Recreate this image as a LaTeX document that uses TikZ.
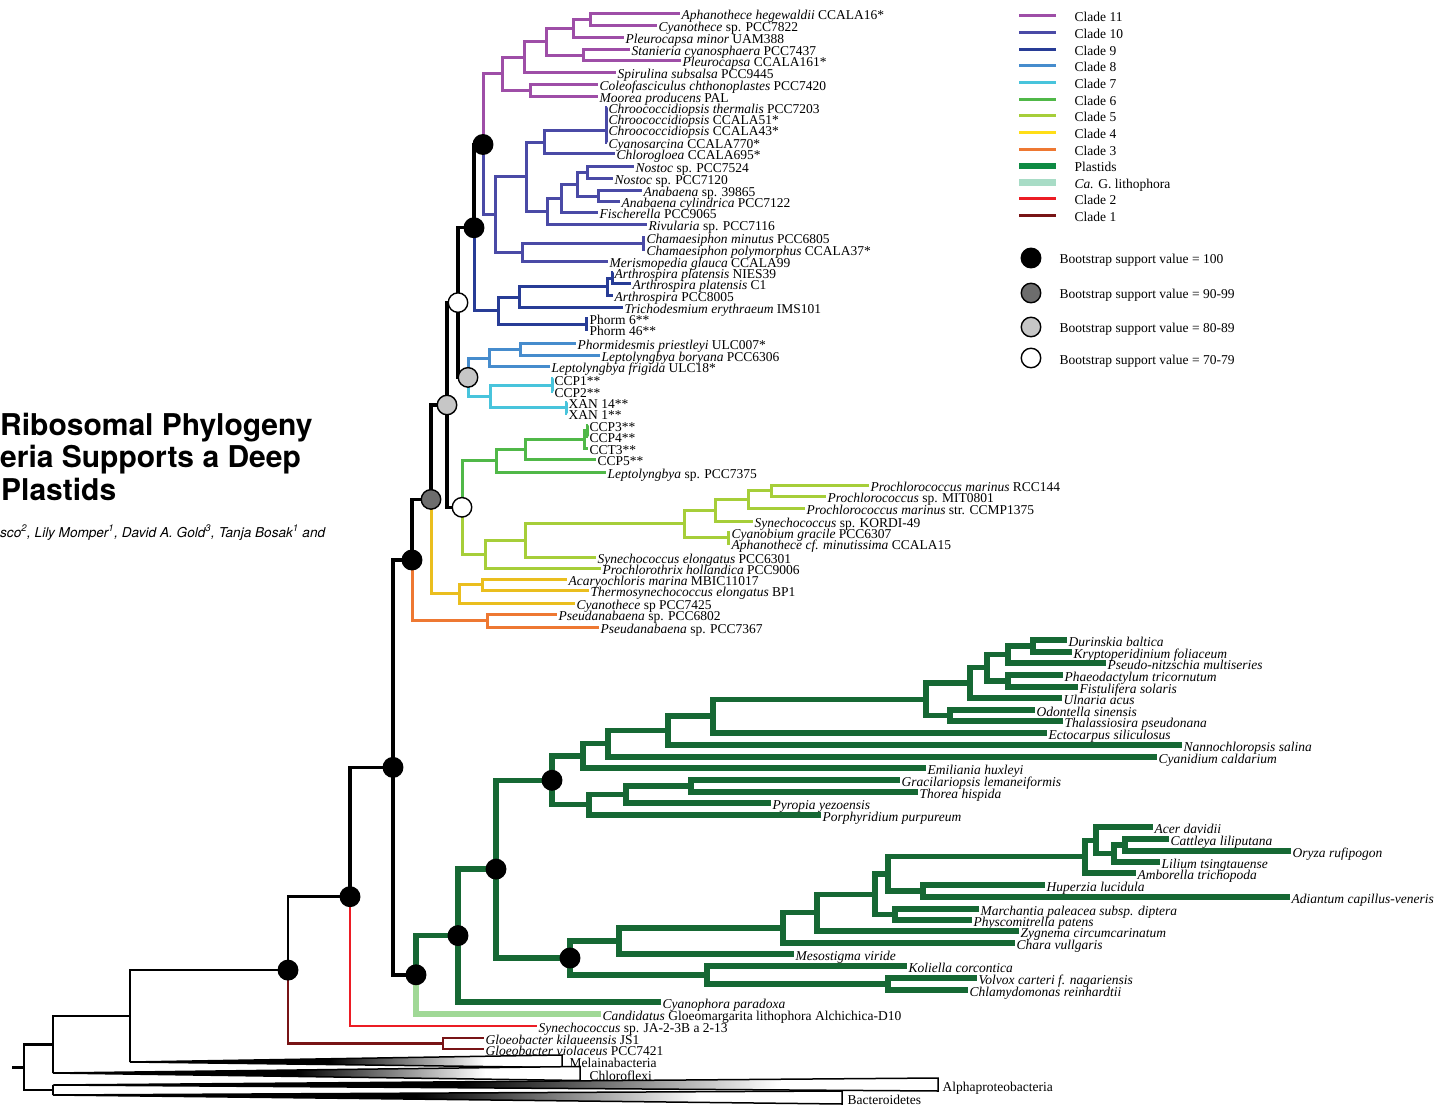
\documentclass[tikz,border=0pt]{standalone}
\usepackage{fontspec}
\setmainfont{Liberation Serif}
\newfontfamily\headfont{TeX Gyre Heros}

\definecolor{colXI}{HTML}{9E4EA7}
\definecolor{colX}{HTML}{4A4AA6}
\definecolor{colIX}{HTML}{283C96}
\definecolor{colVIII}{HTML}{468CCD}
\definecolor{colVII}{HTML}{48C4DC}
\definecolor{colVI}{HTML}{50B848}
\definecolor{colV}{HTML}{A6CE39}
\definecolor{colIV}{HTML}{EABE1E}
\definecolor{colIII}{HTML}{EE7832}
\definecolor{colPl}{HTML}{166834}
\definecolor{colGl}{HTML}{A0D896}
\definecolor{colII}{HTML}{EC1C24}
\definecolor{colI}{HTML}{781416}
\definecolor{keyIV}{HTML}{FFDE17}
\definecolor{keyPl}{HTML}{0E8A43}
\definecolor{keyGl}{HTML}{A8DCC6}
\definecolor{bsdark}{HTML}{6D6D6D}
\definecolor{bslight}{HTML}{C6C6C6}

\pgfdeclarehorizontalshading{wedgefade}{100bp}{color(0bp)=(black); color(25bp)=(black); color(48bp)=(black); color(66bp)=(white); color(100bp)=(white)}

\tikzset{
  cyano/.style={line width=3pt},
  c11/.style={cyano,draw=colXI},
  c10/.style={cyano,draw=colX},
  c9/.style={cyano,draw=colIX},
  c8/.style={cyano,draw=colVIII},
  c7/.style={cyano,draw=colVII},
  c6/.style={cyano,draw=colVI},
  c5/.style={cyano,draw=colV},
  c4/.style={cyano,draw=colIV},
  c3/.style={cyano,draw=colIII},
  c2/.style={line width=2.5pt,draw=colII},
  c1/.style={line width=2.8pt,draw=colI},
  spine/.style={line width=3.4pt,draw=black},
  outer/.style={line width=2.5pt,draw=black},
  plastid/.style={line width=5.4pt,draw=colPl},
  lithophora/.style={line width=6pt,draw=colGl},
  leaf/.style={anchor=west,inner sep=1.5pt,text height=12pt,text depth=0pt,font=\fontsize{13.5}{14}\selectfont},
  boot/.style={circle,draw=black,line width=1.4pt,minimum size=19.5pt,inner sep=0pt},
  bs100/.style={boot,fill=black},
  bs90/.style={boot,fill=bsdark},
  bs80/.style={boot,fill=bslight},
  bs70/.style={boot,fill=white},
  heading/.style={anchor=base west,inner sep=0pt,font=\headfont\bfseries\fontsize{30}{32}\selectfont},
  collapsed/.style={draw=black,line width=1.5pt,shading=wedgefade}
}

\begin{document}
\begin{tikzpicture}[x=1pt,y=-1pt]
  \useasboundingbox (0,0) rectangle (1449,1107);

  \node[heading] (ttla) at (0,435) {Ribosomal Phylogeny};
  \node[heading] (ttlb) at (0,467) {eria Supports a Deep};
  \node[heading] (ttlc) at (1,500) {Plastids};
  \node[anchor=base west,inner sep=0pt,font=\headfont\itshape\fontsize{13.6}{15}\selectfont] (auth) at (0,537) {sco\textsuperscript{2}, Lily Momper\textsuperscript{1}, David A. Gold\textsuperscript{3}, Tanja Bosak\textsuperscript{1} and};

  % clade 11
  \node[leaf] (aph) at (680,14) {\textit{Aphanothece hegewaldii} CCALA16*};
  \node[leaf] (cyn22) at (657,26) {\textit{Cyanothece} sp. PCC7822};
  \node[leaf] (pmin) at (624,38) {\textit{Pleurocapsa minor} UAM388};
  \node[leaf] (stan) at (630,50) {\textit{Stanieria cyanosphaera} PCC7437};
  \node[leaf] (pc161) at (681,61) {\textit{Pleurocapsa} CCALA161*};
  \node[leaf] (spir) at (616,73) {\textit{Spirulina subsalsa} PCC9445};
  \node[leaf] (cole) at (598,85) {\textit{Coleofasciculus chthonoplastes} PCC7420};
  \node[leaf] (moor) at (598,97) {\textit{Moorea producens} PAL};
  \coordinate (p1) at (590,20);
  \coordinate (p2) at (573,29);
  \coordinate (p3) at (583,55.5);
  \coordinate (p4) at (546,42);
  \coordinate (p5) at (524,57.5);
  \coordinate (p6) at (530,91);
  \coordinate (p7) at (502,74);
  \draw[c11] (p1) |- (aph.west) (p1) |- (cyn22.west);
  \draw[c11] (p2) |- (p1) (p2) |- (pmin.west);
  \draw[c11] (p3) |- (stan.west) (p3) |- (pc161.west);
  \draw[c11] (p4) |- (p2) (p4) |- (p3);
  \draw[c11] (p5) |- (p4) (p5) |- (spir.west);
  \draw[c11] (p6) |- (cole.west) (p6) |- (moor.west);
  \draw[c11] (p7) |- (p5) (p7) |- (p6);

  % clade 10
  \node[leaf] (chth) at (607,108) {\textit{Chroococcidiopsis thermalis} PCC7203};
  \node[leaf] (ch51) at (607,119) {\textit{Chroococcidiopsis} CCALA51*};
  \node[leaf] (ch43) at (607,130) {\textit{Chroococcidiopsis} CCALA43*};
  \node[leaf] (cysa) at (607,143) {\textit{Cyanosarcina} CCALA770*};
  \node[leaf] (chlg) at (615,154) {\textit{Chlorogloea} CCALA695*};
  \node[leaf] (no24) at (634,167) {\textit{Nostoc} sp. PCC7524};
  \node[leaf] (no20) at (613,179) {\textit{Nostoc} sp. PCC7120};
  \node[leaf] (an39) at (642,191) {\textit{Anabaena} sp. 39865};
  \node[leaf] (ancy) at (620,202) {\textit{Anabaena cylindrica} PCC7122};
  \node[leaf] (fisc) at (598,213) {\textit{Fischerella} PCC9065};
  \node[leaf] (rivu) at (647,225) {\textit{Rivularia} sp. PCC7116};
  \node[leaf] (chmi) at (645,238) {\textit{Chamaesiphon minutus} PCC6805};
  \node[leaf] (chpo) at (645,250) {\textit{Chamaesiphon polymorphus} CCALA37*};
  \node[leaf] (meri) at (608,262) {\textit{Merismopedia glauca} CCALA99};
  \coordinate (q1) at (606,131);
  \coordinate (q2) at (544,142.5);
  \coordinate (q3) at (587,173);
  \coordinate (q4) at (598,196.5);
  \coordinate (q5) at (577,185);
  \coordinate (q6) at (561,199);
  \coordinate (q7) at (547,212);
  \coordinate (q8) at (526,177);
  \coordinate (q9) at (643,244);
  \coordinate (q10) at (522,253);
  \coordinate (q11) at (495,215);
  \draw[c10] (q1) |- (chth.west) (q1) |- (ch51.west) (q1) |- (ch43.west) (q1) |- (cysa.west);
  \draw[c10] (q2) |- (q1) (q2) |- (chlg.west);
  \draw[c10] (q3) |- (no24.west) (q3) |- (no20.west);
  \draw[c10] (q4) |- (an39.west) (q4) |- (ancy.west);
  \draw[c10] (q5) |- (q3) (q5) |- (q4);
  \draw[c10] (q6) |- (q5) (q6) |- (fisc.west);
  \draw[c10] (q7) |- (q6) (q7) |- (rivu.west);
  \draw[c10] (q8) |- (q2) (q8) |- (q7);
  \draw[c10] (q9) |- (chmi.west) (q9) |- (chpo.west);
  \draw[c10] (q10) |- (q9) (q10) |- (meri.west);
  \draw[c10] (q11) |- (q8) (q11) |- (q10);
  \coordinate (nA) at (483,144.5);
  \draw[c11] (nA) |- (p7);
  \draw[c10] (nA) |- (q11);

  % clade 9
  \node[leaf] (apn) at (613,273) {\textit{Arthrospira platensis} NIES39};
  \node[leaf] (apc) at (631,284) {\textit{Arthrospira platensis} C1};
  \node[leaf] (ap05) at (613,296) {\textit{Arthrospira} PCC8005};
  \node[leaf] (tri) at (623,308) {\textit{Trichodesmium erythraeum} IMS101};
  \node[leaf] (ph6) at (588,319) {Phorm 6**};
  \node[leaf] (ph46) at (588,330) {Phorm 46**};
  \coordinate (r1) at (612,278.5);
  \coordinate (r2) at (607,287);
  \coordinate (r3) at (519,297.5);
  \coordinate (r4) at (586,324.5);
  \coordinate (r5) at (498,311);
  \draw[c9] (r1) |- (apn.west) (r1) |- (apc.west);
  \draw[c9] (r2) |- (r1) (r2) |- (ap05.west);
  \draw[c9] (r3) |- (r2) (r3) |- (tri.west);
  \draw[c9] (r4) |- (ph6.west) (r4) |- (ph46.west);
  \draw[c9] (r5) |- (r3) (r5) |- (r4);
  \coordinate (nB) at (474,227.75);
  \draw[spine] (nB) |- (nA);
  \draw[c9] (nB) |- (r5);

  % clades 8 and 7
  \node[leaf] (phpr) at (576,344) {\textit{Phormidesmis priestleyi} ULC007*};
  \node[leaf] (lbor) at (600,356) {\textit{Leptolyngbya boryana} PCC6306};
  \node[leaf] (lfri) at (550,367) {\textit{Leptolyngbya frigida} ULC18*};
  \node[leaf] (ccp1) at (553,379) {CCP1**};
  \node[leaf] (ccp2) at (553,391) {CCP2**};
  \node[leaf] (xa14) at (567,402) {XAN 14**};
  \node[leaf] (xan1) at (567,413) {XAN 1**};
  \coordinate (s1) at (520,350);
  \coordinate (s2) at (489,358.5);
  \coordinate (t1) at (552,385);
  \coordinate (t2) at (566,407.5);
  \coordinate (t3) at (490,396.25);
  \draw[c8] (s1) |- (phpr.west) (s1) |- (lbor.west);
  \draw[c8] (s2) |- (s1) (s2) |- (lfri.west);
  \draw[c7] (t1) |- (ccp1.west) (t1) |- (ccp2.west);
  \draw[c7] (t2) |- (xa14.west) (t2) |- (xan1.west);
  \draw[c7] (t3) |- (t1) (t3) |- (t2);
  \coordinate (nD) at (468,377.4);
  \draw[c8] (nD) |- (s2);
  \draw[c7] (nD) |- (t3);
  \coordinate (nC) at (458,302.6);
  \draw[spine] (nC) |- (nB) (nC) |- (nD);

  % clades 6 and 5
  \node[leaf] (ccp3) at (588,425) {CCP3**};
  \node[leaf] (ccp4) at (588,436) {CCP4**};
  \node[leaf] (cct3) at (588,448) {CCT3**};
  \node[leaf] (ccp5) at (596,459) {CCP5**};
  \node[leaf] (lp75) at (606,472) {\textit{Leptolyngbya} sp. PCC7375};
  \coordinate (u1) at (587,430.5);
  \coordinate (u2) at (584,439);
  \coordinate (u3) at (525,449);
  \coordinate (u4) at (496,460.5);
  \draw[c6] (u1) |- (ccp3.west) (u1) |- (ccp4.west);
  \draw[c6] (u2) |- (u1) (u2) |- (cct3.west);
  \draw[c6] (u3) |- (u2) (u3) |- (ccp5.west);
  \draw[c6] (u4) |- (u3) (u4) |- (lp75.west);
  \node[leaf] (pm44) at (869,485) {\textit{Prochlorococcus marinus} RCC144};
  \node[leaf] (pm01) at (826,496) {\textit{Prochlorococcus} sp. MIT0801};
  \node[leaf] (pm75) at (805,508) {\textit{Prochlorococcus marinus} str. CCMP1375};
  \node[leaf] (kord) at (753,521) {\textit{Synechococcus} sp. KORDI-49};
  \node[leaf] (cyag) at (730,532) {\textit{Cyanobium gracile} PCC6307};
  \node[leaf] (aphm) at (730,543) {\textit{Aphanothece cf. minutissima} CCALA15};
  \node[leaf] (syel) at (596,557) {\textit{Synechococcus elongatus} PCC6301};
  \node[leaf] (proh) at (601,568) {\textit{Prochlorothrix hollandica} PCC9006};
  \coordinate (v1) at (771,490.5);
  \coordinate (v2) at (748,499);
  \coordinate (v3) at (715,510);
  \coordinate (v4) at (728,537.5);
  \coordinate (v5) at (684,523.75);
  \coordinate (v6) at (525,540.4);
  \coordinate (v7) at (485,554.2);
  \draw[c5] (v1) |- (pm44.west) (v1) |- (pm01.west);
  \draw[c5] (v2) |- (v1) (v2) |- (pm75.west);
  \draw[c5] (v3) |- (v2) (v3) |- (kord.west);
  \draw[c5] (v4) |- (cyag.west) (v4) |- (aphm.west);
  \draw[c5] (v5) |- (v3) (v5) |- (v4);
  \draw[c5] (v6) |- (v5) (v6) |- (syel.west);
  \draw[c5] (v7) |- (v6) (v7) |- (proh.west);
  \coordinate (nF) at (462,507.3);
  \draw[c6] (nF) |- (u4);
  \draw[c5] (nF) |- (v7);
  \coordinate (nE) at (447,405);
  \draw[spine] (nE) |- (nC) (nE) |- (nF);

  % clades 4 and 3
  \node[leaf] (acar) at (567,579) {\textit{Acaryochloris marina} MBIC11017};
  \node[leaf] (ther) at (589,590) {\textit{Thermosynechococcus elongatus} BP1};
  \node[leaf] (cy25) at (575,603) {\textit{Cyanothece} sp PCC7425};
  \coordinate (w1) at (482,584.5);
  \coordinate (w2) at (459,593.75);
  \draw[c4] (w1) |- (acar.west) (w1) |- (ther.west);
  \draw[c4] (w2) |- (w1) (w2) |- (cy25.west);
  \coordinate (nG) at (431,499.4);
  \draw[spine] (nG) |- (nE);
  \draw[c4] (nG) |- (w2);
  \node[leaf] (ps02) at (557,614) {\textit{Pseudanabaena} sp. PCC6802};
  \node[leaf] (ps67) at (599,627) {\textit{Pseudanabaena} sp. PCC7367};
  \coordinate (x1) at (487,620.5);
  \draw[c3] (x1) |- (ps02.west) (x1) |- (ps67.west);
  \coordinate (nH) at (412,560);
  \draw[spine] (nH) |- (nG);
  \draw[c3] (nH) |- (x1);

  % plastids
  \node[leaf] (dur) at (1067,640) {\textit{Durinskia baltica}};
  \node[leaf] (kry) at (1072,652) {\textit{Kryptoperidinium foliaceum}};
  \node[leaf] (pse) at (1106,663) {\textit{Pseudo-nitzschia multiseries}};
  \node[leaf] (pha) at (1063,675) {\textit{Phaeodactylum tricornutum}};
  \node[leaf] (fis) at (1078,687) {\textit{Fistulifera solaris}};
  \node[leaf] (uln) at (1062,698) {\textit{Ulnaria acus}};
  \node[leaf] (odo) at (1035,710) {\textit{Odontella sinensis}};
  \node[leaf] (tha) at (1063,721) {\textit{Thalassiosira pseudonana}};
  \node[leaf] (ect) at (1047,733) {\textit{Ectocarpus siliculosus}};
  \node[leaf] (nan) at (1182,745) {\textit{Nannochloropsis salina}};
  \node[leaf] (cya) at (1157,757) {\textit{Cyanidium caldarium}};
  \node[leaf] (emi) at (926,768) {\textit{Emiliania huxleyi}};
  \node[leaf] (gra) at (900,780) {\textit{Gracilariopsis lemaneiformis}};
  \node[leaf] (tho) at (918,792) {\textit{Thorea hispida}};
  \node[leaf] (pyr) at (771,803) {\textit{Pyropia yezoensis}};
  \node[leaf] (por) at (821,815) {\textit{Porphyridium purpureum}};
  \coordinate (y1) at (1033,646);
  \coordinate (y2) at (1008,654.5);
  \coordinate (y3) at (1008,681);
  \coordinate (y4) at (987,667.75);
  \coordinate (y5) at (970,683);
  \coordinate (y6) at (950,715.5);
  \coordinate (y7) at (926,699.25);
  \coordinate (y8) at (713,716);
  \coordinate (y9) at (668,730.5);
  \coordinate (y10) at (608,743.75);
  \coordinate (y11) at (583,755.9);
  \coordinate (z1) at (691,786);
  \coordinate (z2) at (626,794.5);
  \coordinate (z3) at (589,804.75);
  \draw[plastid] (y1) |- (dur.west) (y1) |- (kry.west);
  \draw[plastid] (y2) |- (y1) (y2) |- (pse.west);
  \draw[plastid] (y3) |- (pha.west) (y3) |- (fis.west);
  \draw[plastid] (y4) |- (y2) (y4) |- (y3);
  \draw[plastid] (y5) |- (y4) (y5) |- (uln.west);
  \draw[plastid] (y6) |- (odo.west) (y6) |- (tha.west);
  \draw[plastid] (y7) |- (y5) (y7) |- (y6);
  \draw[plastid] (y8) |- (y7) (y8) |- (ect.west);
  \draw[plastid] (y9) |- (y8) (y9) |- (nan.west);
  \draw[plastid] (y10) |- (y9) (y10) |- (cya.west);
  \draw[plastid] (y11) |- (y10) (y11) |- (emi.west);
  \draw[plastid] (z1) |- (gra.west) (z1) |- (tho.west);
  \draw[plastid] (z2) |- (z1) (z2) |- (pyr.west);
  \draw[plastid] (z3) |- (z2) (z3) |- (por.west);
  \coordinate (nI) at (552,780.3);
  \draw[plastid] (nI) |- (y11) (nI) |- (z3);

  \node[leaf] (acer) at (1153,827) {\textit{Acer davidii}};
  \node[leaf] (cat) at (1169,839) {\textit{Cattleya liliputana}};
  \node[leaf] (ory) at (1291,851) {\textit{Oryza rufipogon}};
  \node[leaf] (lil) at (1160,862) {\textit{Lilium tsingtauense}};
  \node[leaf] (amb) at (1136,873) {\textit{Amborella trichopoda}};
  \node[leaf] (hup) at (1045,885) {\textit{Huperzia lucidula}};
  \node[leaf] (adi) at (1290,897) {\textit{Adiantum capillus-veneris}};
  \node[leaf] (mar) at (979,909) {\textit{Marchantia paleacea subsp. diptera}};
  \node[leaf] (phy) at (972,920) {\textit{Physcomitrella patens}};
  \node[leaf] (zyg) at (1019,931) {\textit{Zygnema circumcarinatum}};
  \node[leaf] (cha) at (1015,943) {\textit{Chara vullgaris}};
  \node[leaf] (mes) at (794,954) {\textit{Mesostigma viride}};
  \node[leaf] (kol) at (907,966) {\textit{Koliella corcontica}};
  \node[leaf] (vol) at (977,978) {\textit{Volvox carteri f. nagariensis}};
  \node[leaf] (chl) at (968,990) {\textit{Chlamydomonas reinhardtii}};
  \coordinate (g1) at (1125,845);
  \coordinate (g2) at (1114,853.5);
  \coordinate (g3) at (1096,840.25);
  \coordinate (g4) at (1085,856.6);
  \coordinate (g5) at (923,891);
  \coordinate (g6) at (888,873.8);
  \coordinate (g7) at (895,914.5);
  \coordinate (g8) at (875,894.2);
  \coordinate (g9) at (817,912.6);
  \coordinate (g10) at (783,927.8);
  \coordinate (g11) at (619,940.9);
  \coordinate (g12) at (888,984);
  \coordinate (g13) at (707,975);
  \draw[plastid] (g1) |- (cat.west) (g1) |- (ory.west);
  \draw[plastid] (g2) |- (g1) (g2) |- (lil.west);
  \draw[plastid] (g3) |- (acer.west) (g3) |- (g2);
  \draw[plastid] (g4) |- (g3) (g4) |- (amb.west);
  \draw[plastid] (g5) |- (hup.west) (g5) |- (adi.west);
  \draw[plastid] (g6) |- (g4) (g6) |- (g5);
  \draw[plastid] (g7) |- (mar.west) (g7) |- (phy.west);
  \draw[plastid] (g8) |- (g6) (g8) |- (g7);
  \draw[plastid] (g9) |- (g8) (g9) |- (zyg.west);
  \draw[plastid] (g10) |- (g9) (g10) |- (cha.west);
  \draw[plastid] (g11) |- (g10) (g11) |- (mes.west);
  \draw[plastid] (g12) |- (vol.west) (g12) |- (chl.west);
  \draw[plastid] (g13) |- (kol.west) (g13) |- (g12);
  \coordinate (nJ) at (570,958);
  \draw[plastid] (nJ) |- (g11) (nJ) |- (g13);
  \coordinate (nK) at (496,869.1);
  \draw[plastid] (nK) |- (nI) (nK) |- (nJ);
  \node[leaf] (cyp) at (661,1002) {\textit{Cyanophora paradoxa}};
  \coordinate (nL) at (458,935.6);
  \draw[plastid] (nL) |- (nK) (nL) |- (cyp.west);
  \node[leaf] (gloe) at (601,1014) {\textit{Candidatus} Gloeomargarita lithophora Alchichica-D10};
  \coordinate (nM) at (416,974.8);
  \draw[plastid] (nM) |- (nL);
  \draw[lithophora] (nM) |- (gloe.west);
  \coordinate (nN) at (393,767.4);
  \draw[spine] (nN) |- (nH) (nN) |- (nM);

  % early branches and outgroups
  \node[leaf] (sjab) at (537,1026) {\textit{Synechococcus} sp. JA-2-3B a 2-13};
  \coordinate (nO) at (350,896.7);
  \draw[spine] (nO) |- (nN);
  \draw[c2] (nO) |- (sjab.west);
  \node[leaf] (glk) at (484,1038) {\textit{Gloeobacter kilaueensis} JS1};
  \node[leaf] (glv) at (484,1049) {\textit{Gloeobacter violaceus} PCC7421};
  \coordinate (k1) at (443,1043.5);
  \draw[c1] (k1) |- (glk.west) (k1) |- (glv.west);
  \coordinate (nP) at (288,970.1);
  \draw[outer] (nP) |- (nO);
  \draw[c1] (nP) |- (k1);

  \coordinate (melA) at (130,1062);
  \coordinate (chlA) at (53,1073);
  \coordinate (alpA) at (53,1085);
  \coordinate (bacA) at (53,1095);
  \draw[collapsed] (melA) -- (562,1055) -- (562,1067.5) -- cycle;
  \draw[collapsed] (chlA) -- (580,1066.5) -- (580,1080.5) -- cycle;
  \draw[collapsed] (alpA) -- (938,1078) -- (938,1091) -- cycle;
  \draw[collapsed] (bacA) -- (842,1091) -- (842,1104) -- cycle;
  \node[leaf] (mel) at (568,1061) {Melainabacteria};
  \node[leaf] (chlx) at (588,1074) {Chloroflexi};
  \node[leaf] (alph) at (941,1085) {Alphaproteobacteria};
  \node[leaf] (bact) at (846,1098) {Bacteroidetes};
  \coordinate (o1) at (130,1016);
  \coordinate (o2) at (53,1044.5);
  \coordinate (o3) at (53,1090);
  \coordinate (root) at (24,1067.25);
  \coordinate (stub) at (12,1067.25);
  \draw[outer] (o1) |- (nP) (o1) -- (melA);
  \draw[outer] (o2) |- (o1) (o2) -- (chlA);
  \draw[outer] (o3) -- (alpA) (o3) -- (bacA);
  \draw[outer] (root) |- (o2) (root) |- (o3) (stub) -- (root);

  % bootstrap support
  \node[bs100] (bA) at (nA) {};
  \node[bs100] (bB) at (nB) {};
  \node[bs70] (bC) at (nC) {};
  \node[bs80] (bD) at (nD) {};
  \node[bs80] (bE) at (nE) {};
  \node[bs70] (bF) at (nF) {};
  \node[bs90] (bG) at (nG) {};
  \node[bs100] (bH) at (nH) {};
  \node[bs100] (bI) at (nI) {};
  \node[bs100] (bJ) at (nJ) {};
  \node[bs100] (bK) at (nK) {};
  \node[bs100] (bL) at (nL) {};
  \node[bs100] (bM) at (nM) {};
  \node[bs100] (bN) at (nN) {};
  \node[bs100] (bO) at (nO) {};
  \node[bs100] (bP) at (nP) {};

  % legend
  \draw[line width=3pt,colXI] (1019,16) -- (1056,16);
  \draw[line width=3pt,colX] (1019,33) -- (1056,33);
  \draw[line width=3pt,colIX] (1019,49.5) -- (1056,49.5);
  \draw[line width=3pt,colVIII] (1019,66) -- (1056,66);
  \draw[line width=3pt,colVII] (1019,83) -- (1056,83);
  \draw[line width=3pt,colVI] (1019,99.5) -- (1056,99.5);
  \draw[line width=3pt,colV] (1019,116) -- (1056,116);
  \draw[line width=3pt,keyIV] (1019,133) -- (1056,133);
  \draw[line width=3pt,colIII] (1019,149.5) -- (1056,149.5);
  \draw[line width=5.8pt,keyPl] (1019,166) -- (1056,166);
  \draw[line width=6.2pt,keyGl] (1019,182.5) -- (1056,182.5);
  \draw[line width=3pt,colII] (1019,199) -- (1056,199);
  \draw[line width=3pt,colI] (1019,216) -- (1056,216);
  \node[leaf] (k11) at (1073,16) {Clade 11};
  \node[leaf] (k10) at (1073,33) {Clade 10};
  \node[leaf] (k9) at (1073,49.5) {Clade 9};
  \node[leaf] (k8) at (1073,66) {Clade 8};
  \node[leaf] (k7) at (1073,83) {Clade 7};
  \node[leaf] (k6) at (1073,99.5) {Clade 6};
  \node[leaf] (k5) at (1073,116) {Clade 5};
  \node[leaf] (k4) at (1073,133) {Clade 4};
  \node[leaf] (k3) at (1073,149.5) {Clade 3};
  \node[leaf] (kpl) at (1073,166) {Plastids};
  \node[leaf] (kgl) at (1073,182.5) {\textit{Ca.} G. lithophora};
  \node[leaf] (k2) at (1073,199) {Clade 2};
  \node[leaf] (k1) at (1073,216) {Clade 1};
  \node[bs100] (kb100) at (1031,258) {};
  \node[bs90] (kb90) at (1031,293) {};
  \node[bs80] (kb80) at (1031,327) {};
  \node[bs70] (kb70) at (1031,358) {};
  \node[leaf] (kt100) at (1058,258) {Bootstrap support value = 100};
  \node[leaf] (kt90) at (1058,293) {Bootstrap support value = 90-99};
  \node[leaf] (kt80) at (1058,327) {Bootstrap support value = 80-89};
  \node[leaf] (kt70) at (1058,358) {Bootstrap support value = 70-79};
\end{tikzpicture}
\end{document}
